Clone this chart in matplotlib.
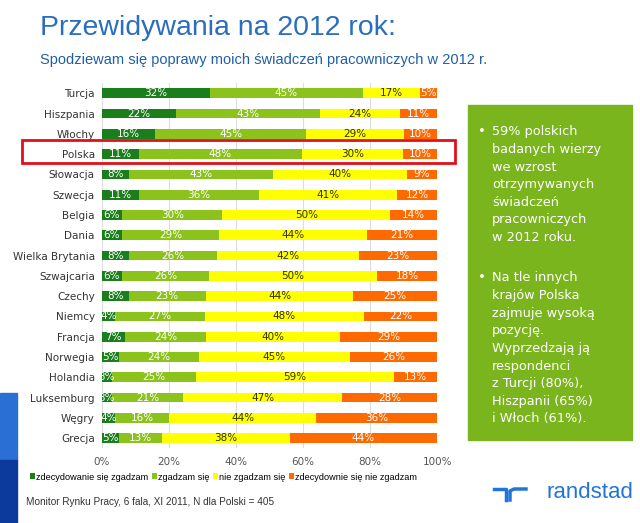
import numpy as np
from matplotlib import pyplot as plt
from matplotlib.patches import Rectangle
from matplotlib.lines import Line2D

countries = ["Turcja", "Hiszpania", "Włochy", "Polska", "Słowacja", "Szwecja",
             "Belgia", "Dania", "Wielka Brytania", "Szwajcaria", "Czechy", "Niemcy",
             "Francja", "Norwegia", "Holandia", "Luksemburg", "Węgry", "Grecja"]
strongly_agree = [32, 22, 16, 11, 8, 11, 6, 6, 8, 6, 8, 4, 7, 5, 3, 3, 4, 5]
agree = [45, 43, 45, 48, 43, 36, 30, 29, 26, 26, 23, 27, 24, 24, 25, 21, 16, 13]
disagree = [17, 24, 29, 30, 40, 41, 50, 44, 42, 50, 44, 48, 40, 45, 59, 47, 44, 38]
strongly_disagree = [5, 11, 10, 10, 9, 12, 14, 21, 23, 18, 25, 22, 29, 26, 13, 28, 36, 44]

series_names = ["zdecydowanie się zgadzam", "zgadzam się", "nie zgadzam się",
                "zdecydownie się nie zgadzam"]
colors = ["#1a7f1a", "#8cc21c", "#ffff00", "#ff6a00"]
label_colors = ["white", "white", "#333300", "white"]

data = np.array([strongly_agree, agree, disagree, strongly_disagree], dtype=float)
shares = data / data.sum(axis=0) * 100

fig = plt.figure(figsize=(6.4, 5.23), dpi=100)
fig.patch.set_facecolor("white")

ax = fig.add_axes([0.159, 0.143, 0.524, 0.698])
y = np.arange(len(countries))
left = np.zeros(len(countries))
for vals, shr, name, col, lcol in zip(data, shares, series_names, colors, label_colors):
    bars = ax.barh(y, shr, left=left, height=0.48, color=col, label=name, zorder=3)
    for b, v in zip(bars, vals):
        ax.text(b.get_x() + b.get_width() / 2, b.get_y() + b.get_height() / 2,
                f"{int(v)}%", ha="center", va="center", fontsize=7.5, color=lcol, zorder=4)
    left += shr

ax.set_xlim(0, 100)
ax.set_ylim(len(countries) - 0.5, -0.5)
ax.set_yticks(y)
ax.set_yticklabels(countries, fontsize=7.5, color="#333333")
ax.set_xticks([0, 20, 40, 60, 80, 100])
ax.set_xticklabels(["0%", "20%", "40%", "60%", "80%", "100%"], fontsize=7.5, color="#555555")
ax.tick_params(length=0, pad=6)
ax.tick_params(axis="y", pad=5)
ax.grid(axis="x", color="#dddddd", lw=0.8, zorder=0)
for s in ax.spines.values():
    s.set_visible(False)

handles, labels = ax.get_legend_handles_labels()
fig.legend(handles, labels, loc="center left", bbox_to_anchor=(30 / 640, 1 - 477 / 523), ncol=4,
           frameon=False, prop={"family": "Liberation Sans", "size": 6.6},
           handlelength=0.55, handleheight=0.55,
           handletextpad=0.15, columnspacing=0.35, borderaxespad=0, borderpad=0)

# title & subtitle
fig.text(40 / 640, 0.947, "Przewidywania na 2012 rok:", fontsize=20.5, color="#2a6ebd",
         family="Liberation Sans", va="center")
fig.text(40 / 640, 0.885, "Spodziewam się poprawy moich świadczeń pracowniczych w 2012 r.",
         fontsize=10.5, color="#1f5fa8", family="Liberation Sans", va="center")

# highlight box around Polska
fig.patches.append(Rectangle((22 / 640, 1 - 163 / 523), 433 / 640, 23 / 523,
                             transform=fig.transFigure, fill=False, ec="#e0101a", lw=2))

# green side panel
fig.patches.append(Rectangle((468 / 640, 1 - 440 / 523), 164 / 640, 335 / 523,
                             transform=fig.transFigure, color="#7ab51d", zorder=0))
panel_lines = [
    ["59% polskich", "badanych wierzy", "we wzrost", "otrzymywanych",
     "świadczeń", "pracowniczych", "w 2012 roku."],
    ["Na tle innych", "krajów Polska", "zajmuje wysoką", "pozycję.",
     "Wyprzedzają ją", "respondenci", "z Turcji (80%),", "Hiszpanii (65%)",
     "i Włoch (61%)."],
]
starts = [132, 278]
for para, ypix in zip(panel_lines, starts):
    fig.text(478 / 640, 1 - ypix / 523, "•", color="white", fontsize=9.5, va="center")
    for line in para:
        fig.text(492 / 640, 1 - ypix / 523, line, color="white", fontsize=9.3,
                 va="center", family="DejaVu Sans")
        ypix += 17.6

# left blue blocks
fig.patches.append(Rectangle((0, 1 - 460 / 523), 17 / 640, 67 / 523,
                             transform=fig.transFigure, color="#2a70d4"))
fig.patches.append(Rectangle((0, 0), 17 / 640, 63 / 523,
                             transform=fig.transFigure, color="#0b3a9c"))

# footer
fig.text(26 / 640, 1 - 502 / 523, "Monitor Rynku Pracy, 6 fala, XI 2011, N dla Polski = 405",
         fontsize=7.2, color="#333333", va="center", family="Liberation Sans")

# randstad logo
fig.text(547 / 640, 1 - 493 / 523, "randstad", fontsize=16, color="#2175d9",
         va="center", family="Liberation Sans")
fig.lines.append(Line2D([494 / 640, 506 / 640, 506 / 640],
                        [1 - 489 / 523, 1 - 489 / 523, 1 - 500 / 523],
                        transform=fig.transFigure, color="#2175d9", lw=2.5))
fig.lines.append(Line2D([510 / 640, 510 / 640, 514 / 640, 526 / 640],
                        [1 - 500 / 523, 1 - 491 / 523, 1 - 489 / 523, 1 - 489 / 523],
                        transform=fig.transFigure, color="#2175d9", lw=2.5))

plt.savefig("out.png", dpi=100)
